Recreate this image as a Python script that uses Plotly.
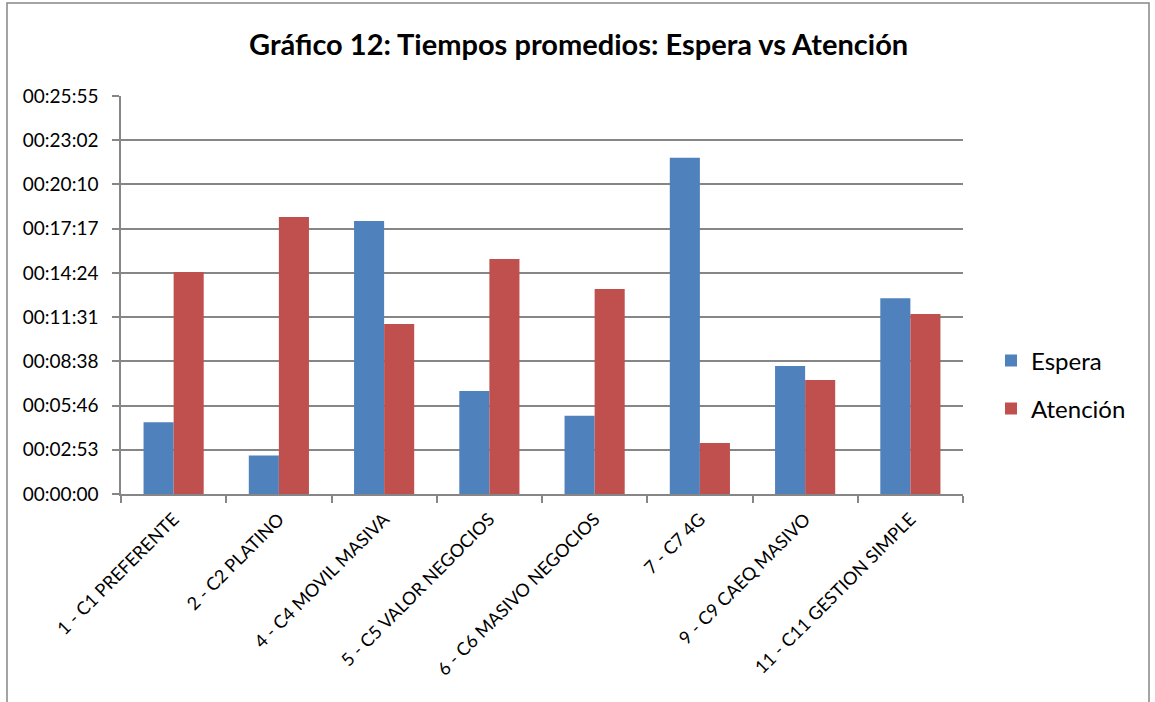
import plotly.graph_objects as go

# Average times per queue (hh:mm:ss)
categorias = [
    "1 - C1 PREFERENTE",
    "2 - C2 PLATINO",
    "4 - C4 MOVIL MASIVA",
    "5 - C5 VALOR NEGOCIOS",
    "6 - C6 MASIVO NEGOCIOS",
    "7 - C7 4G",
    "9 - C9 CAEQ MASIVO",
    "11 - C11 GESTION SIMPLE",
]
espera = ["00:04:40", "00:02:30", "00:17:47", "00:06:42",
          "00:05:06", "00:21:54", "00:08:20", "00:12:45"]
atencion = ["00:14:27", "00:18:02", "00:11:04", "00:15:18",
            "00:13:21", "00:03:19", "00:07:25", "00:11:43"]

# Y axis ticks: steps of 0.002 day (172.8 s)
tick_labels = ["00:00:00", "00:02:53", "00:05:46", "00:08:38", "00:11:31",
               "00:14:24", "00:17:17", "00:20:10", "00:23:02", "00:25:55"]
tick_step_days = 0.002


def to_seconds(hms):
    h, m, s = (int(p) for p in hms.split(":"))
    return h * 3600 + m * 60 + s


esp_s = [to_seconds(v) for v in espera]
ate_s = [to_seconds(v) for v in atencion]
tick_vals = [i * tick_step_days * 86400 for i in range(len(tick_labels))]

W, H = 1155, 702
ML, MR, MT, MB = 121, 192, 96, 208
PW, PH = W - ML - MR, H - MT - MB

AXIS = "#868686"
FONT = "Lato, Carlito, Calibri, sans-serif"

fig = go.Figure()
fig.add_trace(go.Bar(name="Espera", x=categorias, y=esp_s,
                     marker=dict(color="#4F81BD", line=dict(width=0)),
                     legend="legend", showlegend=True))
fig.add_trace(go.Bar(name="Atención", x=categorias, y=ate_s,
                     marker=dict(color="#C0504D", line=dict(width=0)),
                     legend="legend2", showlegend=True))


def px_x(px):
    return (px - ML) / PW


def px_y(py):
    return (H - MB - py) / PH


legend_common = dict(
    xanchor="left", yanchor="middle",
    font=dict(family=FONT, size=24, color="black"),
    bgcolor="rgba(0,0,0,0)", borderwidth=0,
)

fig.update_layout(
    width=W, height=H,
    margin=dict(l=ML, r=MR, t=MT, b=MB),
    paper_bgcolor="white", plot_bgcolor="white",
    showlegend=True,
    title=dict(text="<b>Gráfico 12: Tiempos promedios: Espera vs Atención</b>",
               x=0.501, xref="container", xanchor="center",
               y=1 - 45 / H, yref="container", yanchor="middle",
               font=dict(family=FONT, size=29, color="black")),
    barmode="group", bargap=1.5 / 3.5, bargroupgap=0,
    xaxis=dict(
        type="category", tickangle=-45, tickson="boundaries",
        ticks="outside", ticklen=7, tickcolor=AXIS, tickwidth=1.5,
        showline=True, linecolor=AXIS, linewidth=1.5,
        showgrid=False, zeroline=False, ticklabelstandoff=6,
        tickfont=dict(family=FONT, size=18, color="black"),
    ),
    yaxis=dict(
        range=[0, tick_step_days * 9 * 86400],
        tickmode="array", tickvals=tick_vals, ticktext=tick_labels,
        ticks="outside", ticklen=7, tickcolor=AXIS, tickwidth=1.5,
        showline=True, linecolor=AXIS, linewidth=1.5,
        showgrid=True, gridcolor=AXIS, gridwidth=1.5,
        zeroline=False, ticklabelstandoff=10,
        tickfont=dict(family=FONT, size=19, color="black"),
    ),
    legend=dict(x=px_x(991), y=px_y(361), **legend_common),
    legend2=dict(x=px_x(991), y=px_y(409), **legend_common),
    shapes=[dict(type="rect", xref="paper", yref="paper",
                 x0=px_x(7), x1=px_x(1149), y0=px_y(720), y1=px_y(3),
                 line=dict(color=AXIS, width=1.5), layer="below")],
)

fig.write_html("out.html")
